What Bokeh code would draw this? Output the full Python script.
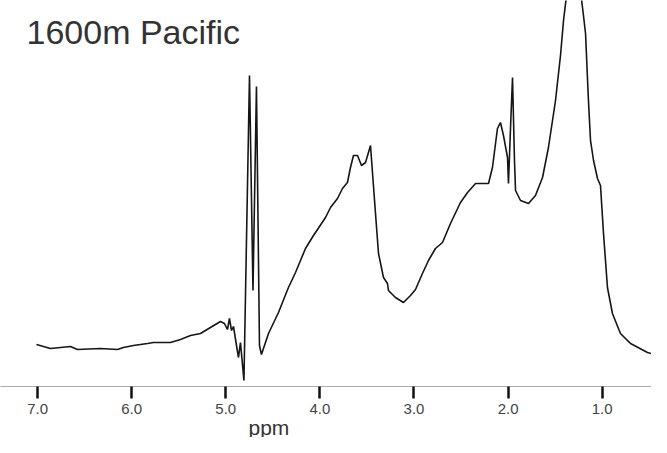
from bokeh.plotting import figure
from bokeh.models import Range1d, FixedTicker, Label, Title
from bokeh.embed import file_html
from bokeh.resources import INLINE

# Chemical shift (ppm) and relative intensity
ppm = [7.012, 6.863, 6.650, 6.576, 6.332, 6.151, 6.087, 5.981, 5.832, 5.768,
       5.588, 5.481, 5.375, 5.269, 5.163, 5.056, 5.014, 4.982, 4.961, 4.939,
       4.918, 4.886, 4.865, 4.844, 4.807, 4.748, 4.711, 4.674, 4.642, 4.621,
       4.546, 4.440, 4.334, 4.259, 4.153, 4.068, 3.940, 3.887, 3.813, 3.760,
       3.707, 3.675, 3.643, 3.600, 3.558, 3.515, 3.462, 3.452, 3.409, 3.377,
       3.324, 3.282, 3.271, 3.197, 3.112, 3.037, 2.984, 2.910, 2.846, 2.772,
       2.697, 2.612, 2.506, 2.431, 2.346, 2.272, 2.208, 2.166, 2.113, 2.081,
       2.049, 2.006, 1.996, 1.974, 1.953, 1.932, 1.921, 1.868, 1.783, 1.709,
       1.634, 1.571, 1.496, 1.443, 1.411, 1.379, 1.305, 1.231, 1.199, 1.177,
       1.146, 1.124, 1.092, 1.050, 1.018, 0.986, 0.944, 0.891, 0.806, 0.699,
       0.519, 0.402, 0.359, 0.306]
intensity = [42, 38, 40, 37, 38, 37, 39, 41, 43, 44,
             44, 47, 51, 53, 59, 65, 63, 57, 68, 56,
             60, 41, 29, 44, 6, 311, 96, 300, 41, 32,
             53, 74, 99, 114, 138, 151, 169, 179, 188, 198,
             204, 219, 231, 231, 221, 224, 241, 228, 173, 133,
             109, 103, 96, 89, 84, 91, 97, 113, 126, 138,
             144, 163, 184, 194, 203, 203, 203, 219, 258, 264,
             251, 229, 203, 259, 309, 226, 196, 186, 183, 191,
             209, 239, 286, 331, 366, 391, 421, 396, 371, 353,
             286, 246, 226, 208, 201, 153, 99, 73, 53, 43,
             34, 31, 34, 31]

tick_values = [7, 6, 5, 4, 3, 2, 1]
tick_labels = ["7.0", "6.0", "5.0", "4.0", "3.0", "2.0", "1.0"]
title_text = "1600m Pacific"
x_label = "ppm"

p = figure(width=651, height=437, output_backend="svg", toolbar_location=None,
           x_range=Range1d(7.394, 0.476), y_range=Range1d(0, 386),
           y_axis_location=None,
           min_border_left=0, min_border_right=0, min_border_top=0,
           min_border_bottom=51)
p.outline_line_color = None
p.xgrid.visible = False
p.ygrid.visible = False
p.background_fill_color = "white"
p.border_fill_color = "white"

p.line(ppm, intensity, line_color="#151515", line_width=1.6)

ax = p.xaxis[0]
ax.ticker = FixedTicker(ticks=tick_values)
ax.major_label_overrides = {v: l for v, l in zip(tick_values, tick_labels)}
ax.minor_tick_line_color = None
ax.major_tick_in = 0
ax.major_tick_out = 12
ax.major_tick_line_width = 2.5
ax.major_tick_line_color = "#111111"
ax.axis_line_color = "#aaaaaa"
ax.axis_line_width = 1
ax.major_label_standoff = 5
ax.major_label_text_font = "Liberation Sans"
ax.major_label_text_font_size = "15px"
ax.major_label_text_color = "#444444"

p.add_layout(Title(text=x_label, align="left", offset=248, standoff=-6,
                   text_font="Liberation Sans", text_font_size="21px",
                   text_font_style="normal", text_color="#333333"), "below")

p.add_layout(Label(x=26, y=355, x_units="screen", y_units="screen",
                   text=title_text, text_font="Liberation Sans",
                   text_font_size="34px", text_color="#333333",
                   text_baseline="alphabetic", text_align="left"))

open("out.html", "w").write(file_html(p, INLINE))
